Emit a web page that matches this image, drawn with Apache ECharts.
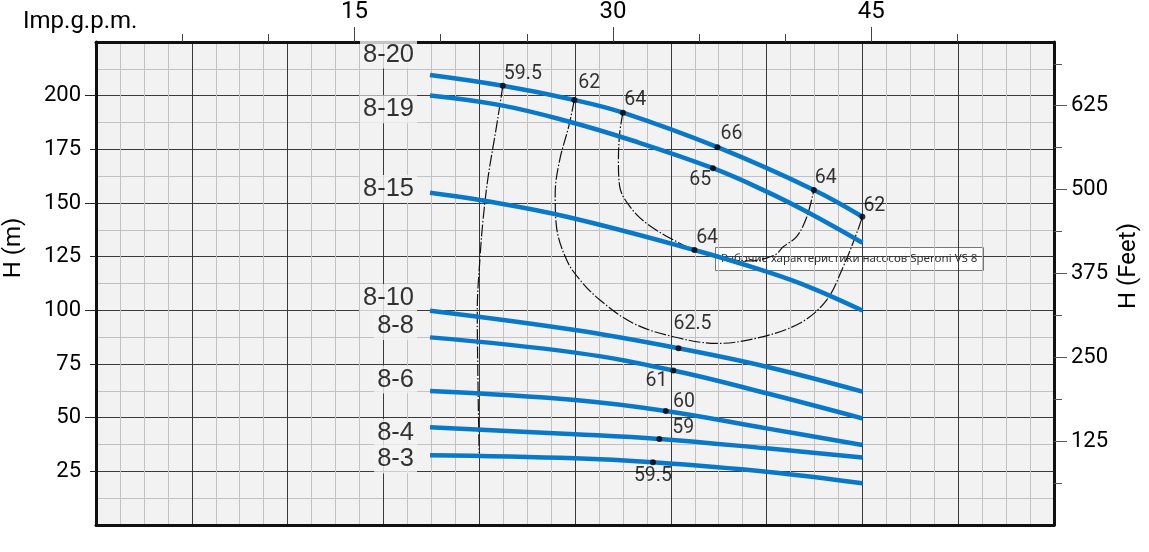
<!DOCTYPE html>
<html><head><meta charset="utf-8">
<script src="https://cdn.jsdelivr.net/npm/echarts@6.0.0/dist/echarts.min.js"></script>
<style>html,body{margin:0;padding:0;background:#fff}#c{width:1149px;height:552px}</style>
</head><body><div id="c"></div>
<script>
// ---- DATA (flow in m3/h, head in m) ----
const models = ['8-20','8-19','8-15','8-10','8-8','8-6','8-4','8-3'];
const flow_8_20 = [5.23, 6.37, 7.49, 8.25, 9.73, 11.24, 12.0];
const head_8_20 = [209.6, 204.6, 198.0, 192.1, 176.0, 156.1, 143.6];
const flow_8_19 = [5.23, 6.33, 7.37, 8.41, 9.66, 10.50, 11.13, 12.0];
const head_8_19 = [200.1, 195.6, 188.2, 179.0, 166.2, 155.3, 145.9, 131.5];
const flow_8_15 = [5.23, 6.01, 7.37, 9.37, 10.50, 11.2, 12.0];
const head_8_15 = [154.8, 151.4, 143.6, 128.1, 118.0, 110.5, 99.9];
const flow_8_10 = [5.23, 7.50, 9.12, 10.50, 12.0];
const head_8_10 = [99.8, 90.8, 82.3, 73.7, 62.1];
const flow_8_8 = [5.23, 7.50, 9.04, 10.50, 12.0];
const head_8_8 = [87.4, 80.3, 72.0, 61.4, 49.7];
const flow_8_6 = [5.23, 7.50, 8.92, 10.50, 12.0];
const head_8_6 = [62.4, 58.2, 53.1, 45.0, 37.3];
const flow_8_4 = [5.23, 7.50, 8.82, 10.50, 12.0];
const head_8_4 = [45.5, 42.3, 40.1, 35.7, 31.4];
const flow_8_3 = [5.23, 7.50, 8.72, 10.50, 12.0];
const head_8_3 = [32.5, 31.1, 29.2, 24.8, 19.4];

// iso-efficiency lines
const iso595_flow = [6.37, 6.27, 6.14, 6.06, 6.01, 5.97, 5.98, 6.00];
const iso595_head = [204.6, 185.5, 162.2, 142.1, 123.4, 100.2, 67.5, 33.5];
const iso62_flow = [7.49, 7.40, 7.26, 7.19, 7.21, 7.37, 7.58, 7.89, 8.41, 9.04, 9.72, 10.34, 11.02, 11.44, 11.70, 11.91, 12.0];
const iso62_head = [198.0, 185.5, 170.0, 154.5, 139.0, 123.4, 114.1, 104.8, 94.0, 87.7, 84.6, 87.0, 94.0, 104.8, 120.3, 135.9, 143.6];
const iso64_flow = [8.25, 8.20, 8.18, 8.20, 8.36, 8.62, 9.04, 9.37, 9.77, 10.24, 10.63, 10.76, 10.97, 11.13, 11.24];
const iso64_head = [192.1, 182.5, 170.0, 157.6, 148.3, 140.5, 132.8, 128.1, 124.4, 123.0, 125.8, 129.6, 134.3, 143.6, 156.1];

// efficiency points (%)
const effFlow = [6.37, 7.49, 8.25, 9.73, 11.24, 12.0, 9.66, 9.37, 9.12, 9.04, 8.92, 8.82, 8.72];
const effHead = [204.6, 198.0, 192.1, 176.0, 156.1, 143.6, 166.2, 128.1, 82.3, 72.0, 53.1, 40.1, 29.2];
const effText = ['59.5','62','64','66','64','62','65','64','62.5','61','60','59','59.5'];

// axis tick labels
const leftTicks = [25, 50, 75, 100, 125, 150, 175, 200];
const rightTicks = [125, 250, 375, 500, 625];
const topTicks = [15, 30, 45];

// ---- LAYOUT / STYLE ----
const flows = [flow_8_20, flow_8_19, flow_8_15, flow_8_10, flow_8_8, flow_8_6, flow_8_4, flow_8_3];
const heads = [head_8_20, head_8_19, head_8_15, head_8_10, head_8_8, head_8_6, head_8_4, head_8_3];
const modelLabelDy = [-20.5, 13.8, -3.7, -12.7, -11.3, -11.5, 5.7, 4.2];
const effPlace = [['left',1,-12],['left',4,-16.7],['left',1.3,-12.4],['left',3,-13.5],['left',1,-11.3],['left',1,-10.9],
  ['right',-1.7,12.2],['left',1.7,-11.6],['left',-5,-24.6],['right',-6,10.4],['left',7.3,-9],['left',13,-10.7],['center',0,13.5]];
const FONT = 'Roboto';
const BLUE = '#0a78c8';
const zip = (a, b) => a.map((v, i) => [v, b[i]]);

const series = [];
[[iso595_flow, iso595_head], [iso62_flow, iso62_head], [iso64_flow, iso64_head]].forEach(([f, h]) => {
  series.push({type:'line', data: zip(f, h), smooth: 0.35, showSymbol:false, silent:true, z:2,
    lineStyle:{color:'#111', width:1.2, type:[12,2,1.5,2]}});
});
models.forEach((m, i) => {
  series.push({type:'line', name:m, data: zip(flows[i], heads[i]), smooth: 0.4, showSymbol:false, silent:true, z:3,
    lineStyle:{color:BLUE, width:4.5, cap:'butt'}});
});
series.push({type:'scatter', symbolSize:6, z:5, silent:true, itemStyle:{color:'#000'},
  data: effFlow.map((f, i) => ({value:[f, effHead[i]], label:{show:true, formatter: effText[i],
    position:[3 + effPlace[i][1], 3 + effPlace[i][2]], align: effPlace[i][0], verticalAlign:'middle',
    fontFamily: FONT, fontSize: 19.5, color:'#000'}}))});
series.push({type:'scatter', symbolSize:6, z:6, silent:true, itemStyle:{color:'rgba(0,0,0,0)'},
  data: models.map((m, i) => ({value:[flows[i][0], heads[i][0]], label:{show:true, formatter: m,
    position:[3 - 13, 3 + modelLabelDy[i]], align:'right', verticalAlign:'middle',
    fontFamily:'Liberation Sans', fontSize: 25.5, color:'#000', backgroundColor:'#f2f2f2', padding:[1,3]}}))});

function ax(extra) {
  const base = {type:'value', axisTick:{show:false}, axisLabel:{show:false}, splitLine:{show:false}};
  const o = Object.assign(base, extra);
  o.axisLine = Object.assign({show:false}, extra.axisLine || {}, {onZero:false});
  return o;
}
const MINOR = '#c2c2c2', MAJOR = '#3a3a3a', BORDER = '#111';
const chart = echarts.init(document.getElementById('c'), null, {renderer:'canvas'});
chart.setOption({
  animation:false,
  grid:{left:96, right:95, top:42, bottom:27, show:true, backgroundColor:'#f2f2f2', borderWidth:0},
  xAxis:[
    ax({position:'bottom', min:0, max:15, interval:0.375,
      splitLine:{show:true, showMinLine:false, showMaxLine:false, lineStyle:{color:MINOR, width:1}}}),
    ax({position:'bottom', min:0, max:15, interval:1.5,
      splitLine:{show:true, showMinLine:false, showMaxLine:false, lineStyle:{color:MAJOR, width:1}}}),
    ax({position:'bottom', min:0, max:15, interval:1.5, axisLine:{show:true, lineStyle:{color:BORDER, width:3}}}),
    ax({position:'top', min:0, max:55.6, interval:5, axisLine:{show:true, lineStyle:{color:BORDER, width:3}},
      axisTick:{show:true, length:8, customValues:[5,10,20,25,35,40,50], lineStyle:{color:'#444'}}}),
    ax({position:'top', min:0, max:55.6, interval:15,
      axisTick:{show:true, length:15, customValues: topTicks, lineStyle:{color:'#444'}},
      axisLabel:{show:true, customValues: topTicks, margin:18, fontFamily:FONT, fontSize:24, color:'#000'}})
  ],
  yAxis:[
    ax({position:'left', min:0, max:225, interval:12.5,
      splitLine:{show:true, showMinLine:false, showMaxLine:false, lineStyle:{color:MINOR, width:1}}}),
    ax({position:'left', min:0, max:225, interval:25,
      splitLine:{show:true, showMinLine:false, showMaxLine:false, lineStyle:{color:MAJOR, width:1}}}),
    ax({position:'left', min:0, max:225, interval:25, axisLine:{show:true, lineStyle:{color:BORDER, width:3}},
      axisTick:{show:true, length:6, customValues:[25,75,125,175], lineStyle:{color:'#222'}},
      axisLabel:{show:true, customValues: leftTicks, margin:15, fontFamily:FONT, fontSize:22, color:'#000'}}),
    ax({position:'left', min:0, max:225, interval:25,
      axisTick:{show:true, length:11, customValues:[50,100,150,200], lineStyle:{color:'#222'}}}),
    ax({position:'right', min:0, max:720, interval:62.5, axisLine:{show:true, lineStyle:{color:BORDER, width:3}},
      axisTick:{show:true, length:8, customValues:[62.5,187.5,312.5,437.5,562.5,687.5], lineStyle:{color:'#555'}}}),
    ax({position:'right', min:0, max:720, interval:125,
      axisTick:{show:true, length:13, customValues: rightTicks, lineStyle:{color:'#555'}},
      axisLabel:{show:true, customValues: rightTicks, margin:17, fontFamily:FONT, fontSize:22, color:'#000'}})
  ],
  series: series,
  graphic:[
    {type:'text', x:23, y:22, z:10, style:{text:'Imp.g.p.m.', fill:'#000', font:'24px Roboto', align:'left', verticalAlign:'middle'}},
    {type:'text', x:14, y:248, rotation:Math.PI/2, z:10, style:{text:'H (m)', fill:'#000', font:'24px Roboto', align:'center', verticalAlign:'middle'}},
    {type:'text', x:1129, y:266, rotation:Math.PI/2, z:10, style:{text:'H (Feet)', fill:'#000', font:'24px Roboto', align:'center', verticalAlign:'middle'}},
    {type:'group', z:20, children:[
      {type:'rect', shape:{x:715.5, y:247.5, width:268, height:23}, style:{fill:'#fff', stroke:'#767676', lineWidth:1}},
      {type:'text', x:721, y:259, style:{text:'Рабочие характеристики насосов Speroni VS 8', fill:'#333', font:'11.5px "Noto Sans"', align:'left', verticalAlign:'middle'}}
    ]}
  ]
});
</script></body></html>
